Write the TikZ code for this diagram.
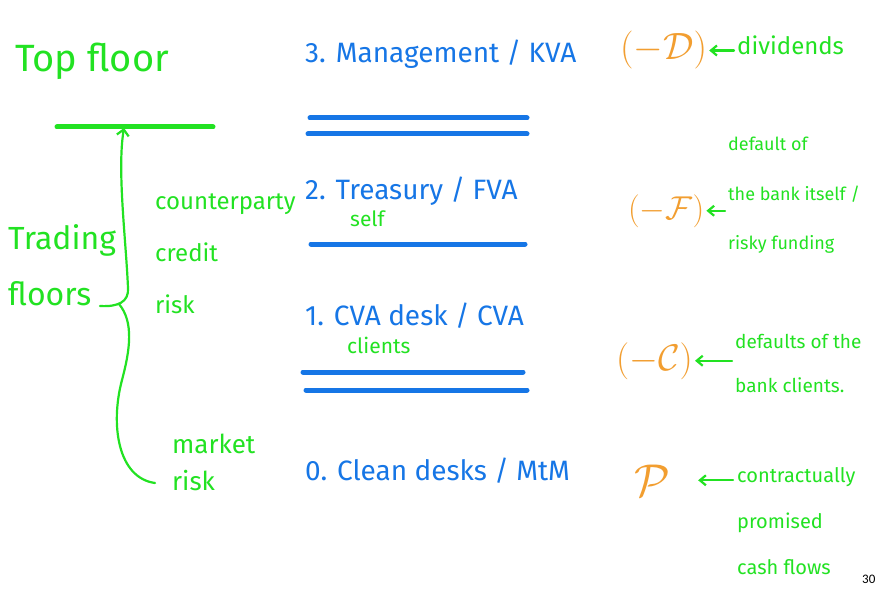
\RequirePackage{fix-cm}
\documentclass[tikz,border=0pt]{standalone}
\usepackage{fontspec}
\setmainfont{Fira Sans}
\newfontfamily\pgfont{Carlito}
\usetikzlibrary{arrows.meta}
\definecolor{hgreen}{RGB}{34,226,34}
\definecolor{hblue}{RGB}{22,118,230}
\definecolor{horange}{RGB}{242,158,48}
\begin{document}
\begin{tikzpicture}[x=1pt,y=-1pt,
  every node/.style={inner sep=0pt},
  gtxt/.style={text=hgreen, anchor=base west, align=left},
  btxt/.style={text=hblue, anchor=base west, font=\fontsize{28}{32}\selectfont},
  otxt/.style={text=horange, anchor=base west},
  grule/.style={draw=hgreen, line width=5pt, line cap=round},
  brule/.style={draw=hblue, line width=5pt, line cap=round},
  gline/.style={draw=hgreen, line width=2.2pt, line cap=round},
  garrow/.style={gline, -{Straight Barb[length=6pt,width=10pt]}}
]
\useasboundingbox[fill=white] (0,0) rectangle (879,591);

% left column (multi-line nodes are placed by the baseline of their last line)
\node[gtxt, font=\fontsize{38}{44}\selectfont] (top) at (15,72) {Top floor};
\draw[grule] (57,127) -- (213,127);
\coordinate (tip) at (124,128);
\coordinate (bj) at (119,304);
\node[gtxt, font=\fontsize{32}{56}\selectfont] (trading) at (8,305) {Trading\\floors};
\node[gtxt, font=\fontsize{24}{52}\selectfont] (ccr) at (155,313) {counterparty\\credit\\risk};
\node[gtxt, font=\fontsize{26}{37}\selectfont] (mkt) at (172,490) {market\\risk};
\draw[gline, {Straight Barb[length=6pt,width=12pt]}-] (tip) .. controls (117,170) and (126,240) .. (128,288)
   .. controls (129,302) and (118,307) .. (100,306);
\draw[gline] (bj) .. controls (134,322) and (130,350) .. (122,380)
   .. controls (110,425) and (118,478) .. (155,483);

% middle column
\node[btxt] (l3) at (305,63) {3. Management / KVA};
\draw[brule] (310,118) -- (527,118);
\draw[brule] (308,134) -- (527,134);
\node[btxt] (l2) at (305,200) {2. Treasury / FVA};
\node[gtxt, font=\fontsize{21}{24}\selectfont] (self) at (350,226) {self};
\draw[brule] (311,244) -- (525,244);
\node[btxt] (l1) at (305,325) {1. CVA desk / CVA};
\node[gtxt, font=\fontsize{21}{24}\selectfont] (clients) at (347,353) {clients};
\draw[brule] (303,372) -- (523,372);
\draw[brule] (306,390) -- (527,390);
\node[btxt] (l0) at (305,480) {0. Clean desks / MtM};

% orange symbols
\node[otxt, font=\fontsize{38}{44}\selectfont] (D) at (620,60) {$({-}\mathcal{D})$};
\node[otxt, font=\fontsize{33}{40}\selectfont] (F) at (628,219) {$({-}\mathcal{F})$};
\node[otxt, font=\fontsize{37}{44}\selectfont] (C) at (616,370) {$({-}\mathcal{C})$};
\node[otxt, font=\fontsize{46}{50}\selectfont] (P) at (634,496) {$\mathcal{P}$};

% right column
\node[gtxt, font=\fontsize{24}{28}\selectfont] (div) at (737,55) {dividends};
\node[gtxt, font=\fontsize{18}{50}\selectfont] (fund) at (728,250) {default of\\the bank itself /\\risky funding};
\node[gtxt, font=\fontsize{19}{44}\selectfont] (defc) at (735,392) {defaults of the\\bank clients.};
\node[gtxt, font=\fontsize{20}{46}\selectfont] (cpf) at (737,574) {contractually\\promised\\cash flows};
\node[anchor=base west, font=\pgfont\fontsize{13}{14}\selectfont] (pg) at (862,583) {30};

\draw[garrow] ([xshift=-3pt]D.east -| div.west) -- ([xshift=2pt]D.east);
\draw[garrow] ([xshift=-3pt]F.east -| fund.west) -- ([xshift=2pt]F.east);
\draw[garrow] ([xshift=-3pt]C.east -| defc.west) -- ([xshift=2pt]C.east);
\draw[garrow] ([xshift=-4pt]P.east -| cpf.west) -- ([xshift=28pt]P.east);
\end{tikzpicture}
\end{document}
